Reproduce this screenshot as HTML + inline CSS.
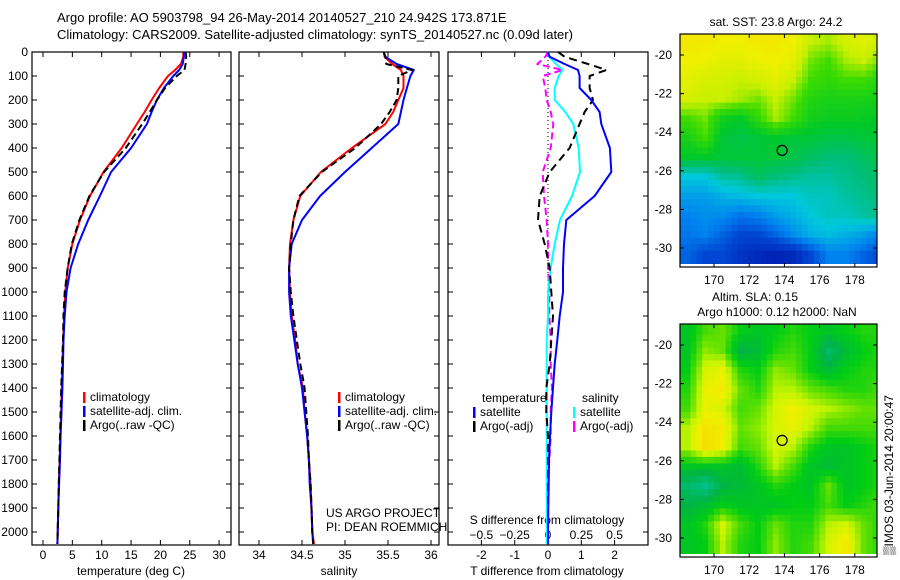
<!DOCTYPE html>
<html><head><meta charset="utf-8"><style>
body{margin:0;background:#fff;}
svg{display:block;font-family:"Liberation Sans",sans-serif;}
</style></head><body>
<svg id="fig" width="900" height="580" viewBox="0 0 900 580">
<text x="57" y="22" font-size="13">Argo profile: AO 5903798_94 26-May-2014 20140527_210 24.942S 173.871E</text>
<text x="57" y="39" font-size="13">Climatology: CARS2009. Satellite-adjusted climatology: synTS_20140527.nc (0.09d later)</text>
<g id="g"></g>
</svg>
<script>
const depth = [0,20,50,75,100,150,200,250,300,400,500,600,700,800,900,1000,1100,1200,1300,1400,1500,1600,1700,1800,1900,2000,2050];
const climT = [23.9,23.9,23.5,22.5,21.3,19.8,18.5,17.3,16,13.4,10.3,8.0,6.3,5.0,4.2,3.8,3.6,3.45,3.3,3.2,3.1,2.95,2.85,2.7,2.6,2.5,2.45];
const satT  = [24.0,24.0,23.8,23.2,22.2,20.6,19.4,18.5,17.7,15,11.6,9.7,7.7,6.0,4.7,4.0,3.7,3.5,3.4,3.3,3.15,3.0,2.9,2.75,2.6,2.5,2.45];
const argoT = [24.3,24.4,24.3,24.1,22.8,20.8,19.4,18.2,16.9,14.1,10.4,7.9,6.2,4.9,4.2,3.7,3.5,3.4,3.25,3.1,3.0,2.9,2.8,2.7,2.6,2.5,2.45];
const climS = [35.45,35.46,35.55,35.65,35.68,35.68,35.62,35.56,35.47,35.08,34.72,34.48,34.40,34.36,34.35,34.36,34.38,34.42,34.45,34.51,34.53,34.56,34.58,34.6,34.61,34.62,34.64];
const satS  = [35.45,35.47,35.6,35.8,35.76,35.72,35.68,35.65,35.62,35.31,35.0,34.71,34.5,34.38,34.35,34.35,34.37,34.41,34.45,34.5,34.53,34.56,34.58,34.59,34.61,34.62,34.63];
const argoS = [35.45,35.47,35.48,35.78,35.62,35.62,35.6,35.52,35.42,35.12,34.73,34.47,34.40,34.37,34.35,34.37,34.4,34.44,34.48,34.53,34.55,34.57,34.58,34.6,34.61,34.62,34.63];
const dTsat  = [0,0.05,0.5,0.9,0.95,0.95,1.3,1.55,1.6,1.86,1.9,1.4,0.55,0.48,0.45,0.45,0.35,0.28,0.2,0.15,0.1,0.06,0.03,0.02,0.01,0,0];
const dTargo = [0.3,0.5,1.2,1.75,1.25,1.25,1.35,1.1,0.95,0.65,0.05,-0.25,-0.3,-0.1,0.05,0.1,0.15,0.1,0.05,-0.05,-0.05,0,0,0,0,0,0];
const dSsat  = [0,0.01,0.06,0.11,0.08,0.05,0.05,0.13,0.19,0.23,0.24,0.18,0.09,0.05,0.02,0,0,-0.01,-0.01,-0.01,-0.01,-0.01,-0.01,-0.01,-0.01,-0.01,-0.01];
const dSargo = [0,-0.02,-0.08,0.11,-0.04,-0.02,-0.01,0.02,0.04,0.02,-0.04,-0.03,-0.01,0,0,0.01,0.01,0.02,0.02,0.03,0.02,0.02,0.01,0,0,0,0];
const depthTicks = [0,100,200,300,400,500,600,700,800,900,1000,1100,1200,1300,1400,1500,1600,1700,1800,1900,2000];
const tTicks = [0,5,10,15,20,25,30];
const sTicks = [34,34.5,35,35.5,36];
const dTTicks = [-2,-1,0,1,2];
const dSTicks = [-0.5,-0.25,0,0.25,0.5];
const lonTicks = [170,172,174,176,178];
const latTicks = [-20,-22,-24,-26,-28,-30];
const sstGrid = [
[0.9,0.9,0.88,0.88,0.9,0.9,0.88,0.8,0.78,0.82,0.85,0.8],
[0.88,0.87,0.85,0.85,0.87,0.88,0.85,0.75,0.72,0.78,0.8,0.75],
[0.85,0.83,0.82,0.8,0.82,0.85,0.8,0.72,0.7,0.72,0.72,0.68],
[0.82,0.8,0.8,0.78,0.75,0.8,0.75,0.68,0.66,0.66,0.66,0.65],
[0.72,0.75,0.65,0.62,0.7,0.78,0.72,0.65,0.64,0.64,0.63,0.63],
[0.66,0.72,0.6,0.58,0.6,0.62,0.6,0.6,0.58,0.58,0.6,0.6],
[0.62,0.62,0.6,0.6,0.6,0.6,0.58,0.55,0.52,0.52,0.55,0.58],
[0.42,0.42,0.48,0.5,0.55,0.52,0.5,0.48,0.48,0.5,0.52,0.55],
[0.35,0.35,0.38,0.4,0.42,0.42,0.42,0.45,0.45,0.48,0.5,0.52],
[0.3,0.32,0.32,0.28,0.3,0.35,0.38,0.42,0.45,0.45,0.48,0.5],
[0.28,0.3,0.25,0.2,0.2,0.25,0.32,0.38,0.4,0.38,0.35,0.3],
[0.25,0.2,0.2,0.15,0.12,0.1,0.12,0.2,0.3,0.3,0.25,0.2]];
const slaGrid = [
[0.4,0.55,0.6,0.45,0.4,0.45,0.5,0.45,0.4,0.45,0.5,0.5],
[0.4,0.65,0.6,0.3,0.35,0.5,0.55,0.45,0.2,0.35,0.45,0.5],
[0.45,0.75,0.8,0.5,0.45,0.65,0.6,0.45,0.35,0.45,0.5,0.5],
[0.5,0.8,0.85,0.6,0.5,0.7,0.7,0.6,0.55,0.5,0.5,0.55],
[0.55,0.8,0.75,0.55,0.6,0.75,0.82,0.75,0.7,0.65,0.6,0.6],
[0.7,0.88,0.85,0.6,0.65,0.75,0.8,0.7,0.55,0.55,0.55,0.55],
[0.7,0.9,0.82,0.55,0.6,0.75,0.7,0.5,0.4,0.4,0.45,0.5],
[0.4,0.4,0.4,0.35,0.5,0.7,0.55,0.4,0.35,0.4,0.45,0.5],
[0.2,0.1,0.3,0.35,0.4,0.5,0.45,0.4,0.6,0.4,0.45,0.5],
[0.3,0.35,0.45,0.4,0.4,0.4,0.45,0.45,0.55,0.45,0.5,0.55],
[0.4,0.5,0.75,0.55,0.45,0.6,0.5,0.5,0.7,0.75,0.6,0.5],
[0.4,0.45,0.7,0.5,0.45,0.65,0.5,0.55,0.75,0.85,0.6,0.5]];
const argoLon = 173.871, argoLat = -24.942;

const NS="http://www.w3.org/2000/svg";
const G=document.getElementById('g');
function el(tag,attrs,parent){const e=document.createElementNS(NS,tag);for(const k in attrs)e.setAttribute(k,attrs[k]);(parent||G).appendChild(e);return e;}
function txt(x,y,s,attrs){const t=el('text',Object.assign({x:x,y:y,'font-size':12},attrs||{}));t.textContent=s;return t;}
const yD=d=>52+d*0.24;
const TOP=52,BOT=545;
const xT=v=>43+v*5.87;
const xS=v=>259+(v-34)*86;
const xdT=v=>548+v*33.3;
const xdS=v=>548+v*133.3;

function panel(name,x0,x1){
  const r=el('rect',{x:x0,y:TOP,width:x1-x0,height:BOT-TOP,fill:'none',stroke:'#000','stroke-width':1.2});
  
  
  depthTicks.forEach(d=>{el('line',{x1:x0,x2:x0+5,y1:yD(d),y2:yD(d),stroke:'#000'});el('line',{x1:x1,x2:x1-5,y1:yD(d),y2:yD(d),stroke:'#000'});});
}
function xticks(ticks,f,x0,x1,y,labfmt){
  ticks.forEach(v=>{const x=f(v);el('line',{x1:x,x2:x,y1:BOT,y2:BOT-5,stroke:'#000'});el('line',{x1:x,x2:x,y1:TOP,y2:TOP+5,stroke:'#000'});
    const t=txt(x,y,labfmt?labfmt(v):String(v),{'text-anchor':'middle'});
    
    });
}
function line(xs,f,color,name,dash,w){
  const pts=depth.map((d,i)=>f(xs[i]).toFixed(1)+','+yD(d).toFixed(1)).join(' ');
  const p=el('polyline',{points:pts,fill:'none',stroke:color,'stroke-width':w||2,'stroke-dasharray':dash||'none','stroke-linejoin':'round'});
  
  
}
function legend(x,y,color,label){
  el('rect',{x:x,y:y-9,width:2.5,height:11,fill:color});
  const t=txt(x+7,y,label);
  
  
}
depthTicks.forEach(d=>{const t=txt(28,yD(d)+4,String(d),{'text-anchor':'end'});
  
  });

panel('temperature-panel',32,231);
xticks(tTicks,xT,32,231,559);
let t1=txt(131,575,'temperature (deg C)',{'text-anchor':'middle'});


line(climT,xT,'#ff0000','temp-climatology-line');
line(satT,xT,'#0000ff','temp-satellite-line');
line(argoT,xT,'#000','temp-argo-line','7,4');
legend(83,401,'#ff0000','climatology');legend(83,415,'#0000ff','satellite-adj. clim.');legend(83,429,'#000','Argo(..raw -QC)');

panel('salinity-panel',239,439);
xticks(sTicks,xS,239,439,559);
let t2=txt(339,575,'salinity',{'text-anchor':'middle'});


line(climS,xS,'#ff0000','sal-climatology-line');
line(satS,xS,'#0000ff','sal-satellite-line');
line(argoS,xS,'#000','sal-argo-line','7,4');
legend(338,401,'#ff0000','climatology');legend(338,415,'#0000ff','satellite-adj. clim.');legend(338,429,'#000','Argo(..raw -QC)');
let c1=txt(326,517,'US ARGO PROJECT');
let c2=txt(326,531,'PI: DEAN ROEMMICH');

panel('difference-panel',448,648);
el('line',{x1:548,x2:548,y1:TOP,y2:yD(1000),stroke:'#000','stroke-dasharray':'1,3'});
xticks(dTTicks,xdT,448,648,559);
dSTicks.forEach(v=>{const t=txt(xdS(v),539,String(v).replace('-','\u2212'),{'text-anchor':'middle'});
  
  });
let t3=txt(547,524,'S difference from climatology',{'text-anchor':'middle'});

let t4=txt(547,575,'T difference from climatology',{'text-anchor':'middle'});

line(dSargo,xdS,'#ff00ff','sal-argo-diff-line','7,4');
line(dSsat,xdS,'#00ffff','sal-satellite-diff-line');
line(dTargo,xdT,'#000','temp-argo-diff-line','8,5');
line(dTsat,xdT,'#0000ff','temp-satellite-diff-line');
let lt=txt(482,402,'temperature');
let ls=txt(582,402,'salinity');
legend(473,416,'#0000ff','satellite');legend(473,430,'#000','Argo(-adj)');
legend(573,416,'#00ffff','satellite');legend(573,430,'#ff00ff','Argo(-adj)');

function lerpColor(stops,v){
  v=Math.max(0,Math.min(1,v));
  for(let i=1;i<stops.length;i++){if(v<=stops[i][0]){const a=stops[i-1],b=stops[i];const f=(v-a[0])/(b[0]-a[0]);
    const c=[0,1,2].map(k=>Math.round(a[1][k]+(b[1][k]-a[1][k])*f));return 'rgb('+c.join(',')+')';}}
  const l=stops[stops.length-1][1];return 'rgb('+l.join(',')+')';
}
const sstStops=[[0,[0,0,150]],[0.2,[0,70,210]],[0.3,[0,130,240]],[0.42,[0,200,220]],[0.52,[0,190,120]],[0.62,[0,200,40]],[0.72,[60,220,0]],[0.8,[200,240,0]],[0.88,[240,240,0]],[1,[250,190,0]]];
const slaStops=[[0,[0,200,170]],[0.3,[0,180,70]],[0.45,[0,205,20]],[0.6,[100,225,0]],[0.72,[200,245,0]],[0.82,[240,240,0]],[1,[250,200,0]]];
// bilinear sample of a grid (rendering only; cell centres at integer+0.5)
function sample(grid,r,c){
  const R=grid.length,C=grid[0].length;
  r=Math.max(0,Math.min(R-1,r));c=Math.max(0,Math.min(C-1,c));
  const r0=Math.floor(r),c0=Math.floor(c),r1=Math.min(R-1,r0+1),c1=Math.min(C-1,c0+1),fr=r-r0,fc=c-c0;
  return grid[r0][c0]*(1-fr)*(1-fc)+grid[r0][c1]*(1-fr)*fc+grid[r1][c0]*fr*(1-fc)+grid[r1][c1]*fr*fc;
}
function map(name,top,grid,stops){
  const X0=680,X1=877,H=233,bottom=top+H;
  const xL=lon=>714+(lon-170)*17.6;
  const yL=lat=>(top+21)+(-20-lat)*19.3;
  const clip=el('clipPath',{id:'clip-'+name});el('rect',{x:X0,y:top,width:X1-X0,height:H},clip);
  const g=el('g',{'clip-path':'url(#clip-'+name+')'});
  
  
  const sub=3;
  grid.forEach((row,i)=>row.forEach((v,j)=>{
    for(let a=0;a<sub;a++)for(let b=0;b<sub;b++){
      const rr=i+(a+0.5)/sub-0.5, cc=j+(b+0.5)/sub-0.5;
      const val=sample(grid,rr,cc);
      const lon0=168+j+b/sub, lat0=-18.8-i-a/sub;
      const c=el('rect',{x:xL(lon0).toFixed(1),y:yL(lat0).toFixed(1),width:(17.6/sub+0.6).toFixed(1),height:(19.3/sub+0.6).toFixed(1),fill:lerpColor(stops,val)},g);
      
      
    }
  }));
  el('rect',{x:X0,y:top,width:X1-X0,height:H,fill:'none',stroke:'#000','stroke-width':1.2});
  lonTicks.forEach(v=>{const x=xL(v);el('line',{x1:x,x2:x,y1:top,y2:top+4,stroke:'#000'});el('line',{x1:x,x2:x,y1:bottom,y2:bottom-4,stroke:'#000'});
    const t=txt(x,bottom+17,String(v),{'text-anchor':'middle'});});
  latTicks.forEach(v=>{const y=yL(v);el('line',{x1:X0,x2:X0+4,y1:y,y2:y,stroke:'#000'});el('line',{x1:X1,x2:X1-4,y1:y,y2:y,stroke:'#000'});
    const t=txt(672,y+4,String(v),{'text-anchor':'end'});});
  const m=el('circle',{cx:xL(argoLon),cy:yL(argoLat),r:5,fill:'none',stroke:'#000','stroke-width':1.2});
  
  
}
map('sst-map',34,sstGrid,sstStops);
let m1=txt(776,26,'sat. SST: 23.8 Argo: 24.2',{'text-anchor':'middle'});
map('sla-map',324,slaGrid,slaStops);
let m2=txt(755,301,'Altim. SLA: 0.15',{'text-anchor':'middle'});
let m3=txt(777,316,'Argo h1000: 0.12 h2000: NaN',{'text-anchor':'middle'});
let im=txt(0,0,'\u2592IMOS 03-Jun-2014 20:00:47',{transform:'translate(893,555) rotate(-90)'});


</script>
</body></html>
